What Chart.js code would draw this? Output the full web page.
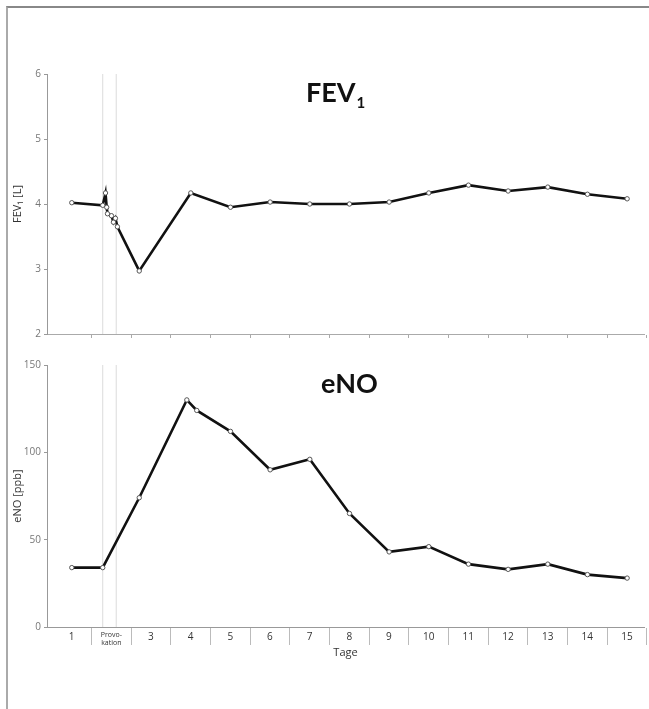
<!DOCTYPE html>
<html>
<head>
<meta charset="utf-8">
<script src="https://cdn.jsdelivr.net/npm/chart.js@4.4.0/dist/chart.umd.min.js"></script>
<style>
html, body { margin: 0; padding: 0; background: #fff; overflow: hidden; }
#frame { position: absolute; left: 6px; top: 6px; width: 643px; height: 703px;
         border-top: 2px solid #888; border-left: 2px solid #aaa; }
#fev { position: absolute; left: 0; top: 0; }
#eno { position: absolute; left: 0; top: 345px; }
</style>
</head>
<body>
<div id="frame"></div>
<canvas id="fev" width="649" height="345"></canvas>
<canvas id="eno" width="649" height="320"></canvas>
<script>
// day axis labels (one per cell)
var dayLabels = ['1', ['Provo-', 'kation'], '3', '4', '5', '6', '7', '8', '9', '10', '11', '12', '13', '14', '15'];

// FEV1 [L]
var fevX = [1, 1.78, 1.85, 1.88, 1.9, 2.0, 2.05, 2.1, 2.15, 2.7, 4, 5, 6, 7, 8, 9, 10, 11, 12, 13, 14, 15];
var fevY = [4.02, 3.98, 4.17, 3.95, 3.85, 3.82, 3.72, 3.78, 3.65, 2.97, 4.17, 3.95, 4.03, 4.0, 4.0, 4.03, 4.17, 4.29, 4.2, 4.26, 4.15, 4.08];

// eNO [ppb]
var enoX = [1, 1.78, 2.7, 3.9, 4.15, 5, 6, 7, 8, 9, 10, 11, 12, 13, 14, 15];
var enoY = [34, 34, 74, 130, 124, 112, 90, 96, 65, 43, 46, 36, 33, 36, 30, 28];

// start / end of provocation
var provocationLines = [1.78, 2.12];

var fevTicks = [2, 3, 4, 5, 6];
var enoTicks = [0, 50, 100, 150];

var tickFont = "'Open Sans', 'DejaVu Sans', sans-serif";
var titleFont = "'Liberation Sans Narrow', 'Lato', sans-serif";

function pts(xs, ys) {
    return xs.map(function(x, i) { return {x: x, y: ys[i]}; });
}

function markerSets(lo, hi) {
    return provocationLines.map(function(x) {
        return {
            data: [{x: x, y: lo}, {x: x, y: hi}],
            borderColor: '#dcdcdc', borderWidth: 1, pointRadius: 0, order: 2
        };
    });
}

var panelTitle = {
    id: 'panelTitle',
    afterDraw: function(chart, args, opts) {
        var ctx = chart.ctx;
        var cx = chart.scales.x.getPixelForValue(opts.at);
        var y = chart.chartArea.top + opts.dy;
        ctx.save();
        ctx.fillStyle = '#111';
        ctx.textBaseline = 'alphabetic';
        ctx.font = 'bold 27px ' + titleFont;
        var w = ctx.measureText(opts.text).width;
        var sw = 0;
        if (opts.sub) {
            ctx.font = 'bold 15px ' + titleFont;
            sw = ctx.measureText(opts.sub).width + 1;
        }
        var left = cx - (w + sw) / 2;
        ctx.font = 'bold 27px ' + titleFont;
        ctx.fillText(opts.text, left, y);
        if (opts.sub) {
            ctx.font = 'bold 15px ' + titleFont;
            ctx.fillText(opts.sub, left + w + 1, y + 6);
        }
        ctx.restore();
    }
};

function yAxis(ticks, title) {
    return {
        type: 'linear',
        min: ticks[0], max: ticks[ticks.length - 1],
        afterBuildTicks: function(s) { s.ticks = ticks.map(function(v) { return {value: v}; }); },
        afterFit: function(s) { s.width = 47; s.paddingTop = 0; s.paddingBottom = 0; },
        ticks: {color: '#777', font: {family: tickFont, size: 10}, padding: 3},
        grid: {drawOnChartArea: false, tickLength: 3, color: '#999'},
        border: {color: '#999'},
        title: {display: true, text: title, color: '#333', font: {family: tickFont, size: 11}, padding: {top: 11, bottom: 0}}
    };
}

function baseOptions() {
    return {
        responsive: false,
        animation: false,
        devicePixelRatio: 1,
        plugins: {legend: {display: false}, tooltip: {enabled: false}},
        elements: {line: {tension: 0}}
    };
}

function mainSet(xs, ys) {
    return {
        data: pts(xs, ys),
        borderColor: '#111', borderWidth: 2.6,
        pointRadius: 2.2, pointBorderWidth: 1,
        pointBackgroundColor: '#fff', pointBorderColor: '#555',
        order: 0
    };
}

// ---- FEV1 panel
var o1 = baseOptions();
o1.layout = {padding: {top: 74, left: 0, right: 0, bottom: 0}};
o1.plugins.panelTitle = {text: 'FEV', sub: '1', at: 7.65, dy: 28};
o1.scales = {
    x: {
        type: 'linear', min: 0.375, max: 15.425,
        afterBuildTicks: function(s) { s.ticks = dayLabels.map(function(_, i) { return {value: i + 1.5}; }); },
        afterFit: function(s) { s.height = 11; s.paddingLeft = 0; s.paddingRight = 0; },
        ticks: {display: false},
        grid: {drawOnChartArea: false, tickLength: 4, color: '#aaa'},
        border: {color: '#aaa'}
    },
    y: yAxis(fevTicks, 'FEV\u2081 [L]')
};
new Chart(document.getElementById('fev'), {
    type: 'line',
    data: {datasets: [mainSet(fevX, fevY)].concat(markerSets(2, 6))},
    options: o1,
    plugins: [panelTitle]
});

// ---- eNO panel
var o2 = baseOptions();
o2.layout = {padding: {top: 20, left: 0, right: 0, bottom: 0}};
o2.plugins.panelTitle = {text: 'eNO', at: 8, dy: 28};
o2.scales = {
    x: {
        type: 'linear', min: 0.375, max: 15.425,
        afterBuildTicks: function(s) { s.ticks = dayLabels.map(function(_, i) { return {value: i + 1.5}; }); },
        afterFit: function(s) { s.height = 38; s.paddingLeft = 0; s.paddingRight = 0; },
        ticks: {
            autoSkip: false, maxRotation: 0, labelOffset: -20, padding: -14, color: '#333',
            callback: function(v) { return dayLabels[Math.round(v - 1.5)]; },
            font: function(c) {
                var small = c.tick && Math.round(c.tick.value - 1.5) === 1;
                return small
                    ? {family: tickFont, size: 7, lineHeight: 1.1}
                    : {family: tickFont, size: 10};
            }
        },
        grid: {drawOnChartArea: false, tickLength: 18, color: '#bbb'},
        border: {color: '#999'},
        title: {display: true, text: 'Tage', color: '#333', font: {family: tickFont, size: 11}, padding: {top: 0, bottom: 6}}
    },
    y: yAxis(enoTicks, 'eNO [ppb]')
};
new Chart(document.getElementById('eno'), {
    type: 'line',
    data: {datasets: [mainSet(enoX, enoY)].concat(markerSets(0, 150))},
    options: o2,
    plugins: [panelTitle]
});
</script>
</body>
</html>
